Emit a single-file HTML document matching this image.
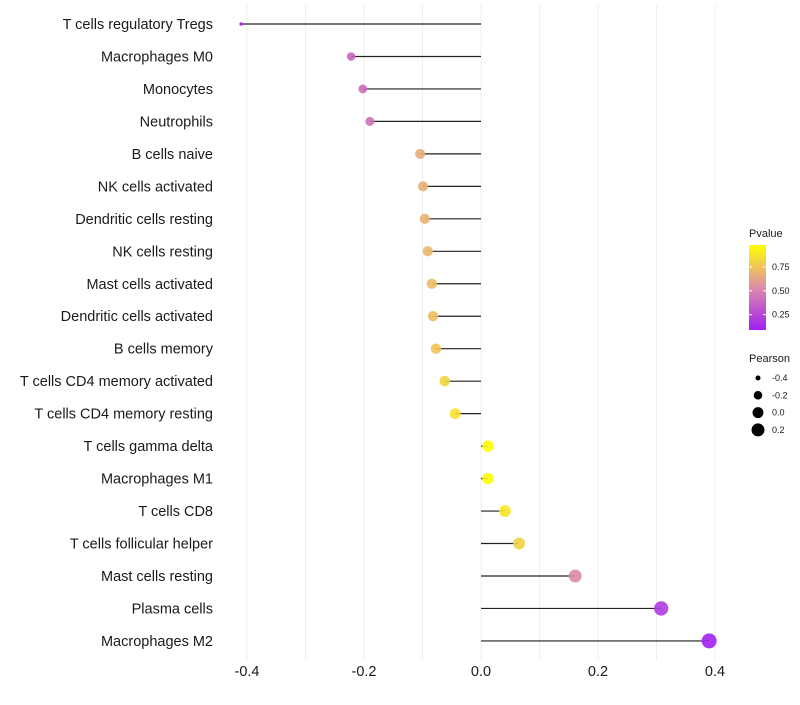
<!DOCTYPE html>
<html><head><meta charset="utf-8"><style>
body{margin:0;background:#fff;font-family:"Liberation Sans",sans-serif}
</style></head><body>
<svg id="chart" width="800" height="700" xmlns="http://www.w3.org/2000/svg"></svg>
<script>
const categories=["T cells regulatory  Tregs","Macrophages M0","Monocytes","Neutrophils","B cells naive","NK cells activated","Dendritic cells resting","NK cells resting","Mast cells activated","Dendritic cells activated","B cells memory","T cells CD4 memory activated","T cells CD4 memory resting","T cells gamma delta","Macrophages M1","T cells CD8","T cells follicular helper","Mast cells resting","Plasma cells","Macrophages M2"];
const pearson=[-0.41,-0.222,-0.202,-0.19,-0.104,-0.099,-0.096,-0.091,-0.084,-0.082,-0.077,-0.062,-0.044,0.012,0.012,0.041,0.065,0.161,0.308,0.39];
const pvalues=[0.08,0.38,0.4,0.42,0.66,0.67,0.68,0.7,0.72,0.73,0.75,0.82,0.86,0.97,0.97,0.88,0.8,0.52,0.2,0.1];
const xTicks=[-0.4,-0.2,0.0,0.2,0.4];
const xTickLabels=["-0.4","-0.2","0.0","0.2","0.4"];
const pTicks=[0.25,0.5,0.75];
const sizeTicks=[-0.4,-0.2,0.0,0.2];

const svg=document.getElementById('chart');
const NS='http://www.w3.org/2000/svg';
function mk(tag,attrs,parent){const e=document.createElementNS(NS,tag);for(const k in attrs)e.setAttribute(k,attrs[k]);(parent||svg).appendChild(e);return e;}
const xScale=v=>481+v*585;
const yScale=i=>24+i*32.47;
const rScale=v=>Math.sqrt(Math.max(2,32+62*v));
function lerp(a,b,t){return a.map((x,i)=>Math.round(x+(b[i]-x)*t));}
function colorScale(p){
  const t=Math.max(0,Math.min(1,(p-0.09)/(0.98-0.09)));
  const lo=[160,32,240],mid=[222,140,170],hi=[255,255,0];
  const c=t<0.5?lerp(lo,mid,t/0.5):lerp(mid,hi,(t-0.5)/0.5);
  return `rgb(${c[0]},${c[1]},${c[2]})`;
}
for(let v=-0.4;v<=0.451;v+=0.1){
  const g=mk('line',{x1:xScale(v),x2:xScale(v),y1:5,y2:660,stroke:'#efefef','stroke-width':1});
  
  
}
categories.forEach((c,i)=>{
  const y=yScale(i);
  const t=mk('text',{x:213,y:y+5,'text-anchor':'end','font-size':14.5,fill:'#1a1a1a'});t.textContent=c;
  
  
  const l=mk('line',{x1:xScale(0),x2:xScale(pearson[i]),y1:y,y2:y,stroke:'#222','stroke-width':1.2});
  
  
  const d=mk('circle',{cx:xScale(pearson[i]),cy:y,r:pearson[i]<-0.35?1.8:rScale(pearson[i]),fill:colorScale(pvalues[i]),'fill-opacity':0.9});
  
  
});
xTicks.forEach((v,i)=>{
  const t=mk('text',{x:xScale(v),y:676,'text-anchor':'middle','font-size':14.5,fill:'#1a1a1a'});t.textContent=xTickLabels[i];
  
  
});
const defs=mk('defs',{});
const grad=mk('linearGradient',{id:'pg',x1:0,y1:1,x2:0,y2:0},defs);
[0,0.25,0.5,0.75,1].forEach(s=>mk('stop',{offset:s,'stop-color':colorScale(0.09+s*0.89)},grad));
const lt=mk('text',{x:749,y:237,'font-size':11,fill:'#1a1a1a'});lt.textContent='Pvalue';


const bar=mk('rect',{x:749,y:245,width:17,height:85,fill:'url(#pg)'});


const pY=p=>245+(0.98-p)/0.89*85;
pTicks.forEach(p=>{
  mk('line',{x1:749,x2:752,y1:pY(p),y2:pY(p),stroke:'#fff'});
  mk('line',{x1:763,x2:766,y1:pY(p),y2:pY(p),stroke:'#fff'});
  const t=mk('text',{x:772,y:pY(p)+3,'font-size':9,fill:'#1a1a1a'});t.textContent=p.toFixed(2);
  
  
});
const st=mk('text',{x:749,y:362,'font-size':11,fill:'#1a1a1a'});st.textContent='Pearson';


sizeTicks.forEach((v,i)=>{
  const y=378+i*17.3;
  const c=mk('circle',{cx:758,cy:y,r:Math.sqrt(30.1+59.6*v),fill:'#000'});
  
  
  const t=mk('text',{x:772,y:y+3,'font-size':9,fill:'#1a1a1a'});t.textContent=v.toFixed(1);
  
  
});
</script>
</body></html>
